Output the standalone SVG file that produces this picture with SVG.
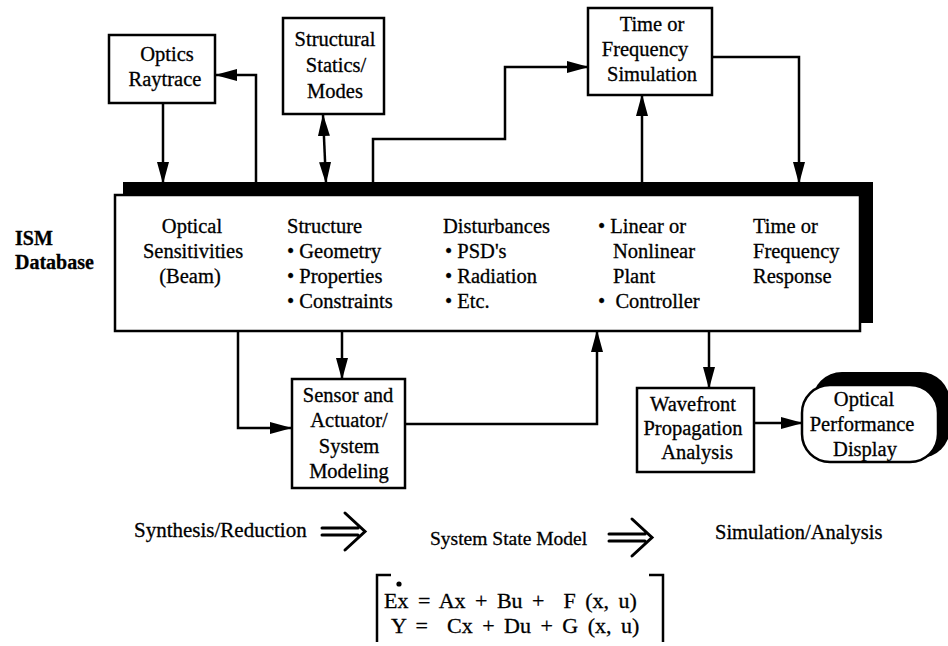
<svg xmlns="http://www.w3.org/2000/svg" width="948" height="646" viewBox="0 0 948 646">
  <style>
    text { font-family: "Liberation Serif", "DejaVu Serif", "Times New Roman", Times, serif; font-size: 20.5px; fill: #000; stroke: #000; stroke-width: 0.3; }
    .c { text-anchor: middle; }
    .b { font-weight: bold; font-size: 20px; }
    .box { fill: #fff; stroke: #000; stroke-width: 2.5; }
    .ln { fill: none; stroke: #000; stroke-width: 2.5; }
    .sym { fill: none; stroke: #000; stroke-width: 3; stroke-linecap: round; }
  </style>
  <defs>
    <marker id="ah" viewBox="0 0 22 12" refX="21" refY="6" markerWidth="22" markerHeight="12" markerUnits="userSpaceOnUse" orient="auto-start-reverse">
      <path d="M0,0 L22,6 L0,12 z" fill="#000"/>
    </marker>
  </defs>
  <rect width="948" height="646" fill="#fff"/>

  <!-- side label -->
  <g id="ism-label">
    <text class="b" x="15" y="245">ISM</text>
    <text class="b" x="15" y="269">Database</text>
  </g>

  <!-- central database with drop shadow -->
  <g id="database">
    <rect x="123" y="182" width="750" height="141" fill="#000"/>
    <rect class="box" x="115" y="195" width="745" height="136"/>
    <text class="c" x="192" y="233">Optical</text>
    <text class="c" x="193" y="258">Sensitivities</text>
    <text class="c" x="190" y="283">(Beam)</text>
    <text x="287" y="233">Structure</text>
    <text x="287" y="258">• Geometry</text>
    <text x="287" y="283">• Properties</text>
    <text x="287" y="308">• Constraints</text>
    <text x="443" y="233">Disturbances</text>
    <text x="445" y="258">• PSD's</text>
    <text x="445" y="283">• Radiation</text>
    <text x="445" y="308">• Etc.</text>
    <text x="598" y="233">• Linear or</text>
    <text x="613" y="258">Nonlinear</text>
    <text x="613" y="283">Plant</text>
    <text x="598" y="308" xml:space="preserve">•  Controller</text>
    <text x="753" y="233">Time or</text>
    <text x="753" y="258">Frequency</text>
    <text x="753" y="283">Response</text>
  </g>

  <g id="optics-raytrace">
    <rect class="box" x="109" y="35" width="106" height="68"/>
    <text class="c" x="167" y="61">Optics</text>
    <text class="c" x="165" y="86">Raytrace</text>
  </g>

  <g id="structural-statics">
    <rect class="box" x="283" y="18" width="101" height="96"/>
    <text class="c" x="335" y="46">Structural</text>
    <text class="c" x="336" y="72">Statics/</text>
    <text class="c" x="335" y="98">Modes</text>
  </g>

  <g id="time-frequency-simulation">
    <rect class="box" x="588" y="8" width="124" height="87"/>
    <text class="c" x="652" y="31">Time or</text>
    <text class="c" x="645" y="56">Frequency</text>
    <text class="c" x="652" y="81">Simulation</text>
  </g>

  <g id="sensor-actuator">
    <rect class="box" x="292" y="379" width="113" height="109"/>
    <text class="c" x="348" y="402">Sensor and</text>
    <text class="c" x="349" y="427">Actuator/</text>
    <text class="c" x="349" y="453">System</text>
    <text class="c" x="349" y="478">Modeling</text>
  </g>

  <g id="wavefront">
    <rect class="box" x="637" y="388" width="117" height="84"/>
    <text class="c" x="693" y="411">Wavefront</text>
    <text class="c" x="693" y="435">Propagation</text>
    <text class="c" x="697" y="459">Analysis</text>
  </g>

  <g id="optical-performance">
    <rect x="812" y="372" width="138" height="86" rx="30" fill="#000"/>
    <rect class="box" x="802" y="385" width="136" height="77" rx="28"/>
    <text class="c" x="864" y="406">Optical</text>
    <text class="c" x="862" y="431">Performance</text>
    <text class="c" x="865" y="456">Display</text>
  </g>

  <!-- connectors -->
  <g id="connectors" class="ln">
    <path d="M163,103 V183" marker-end="url(#ah)"/>
    <path d="M256,183 V75 H216" marker-end="url(#ah)"/>
    <path d="M323,115 L326,183" marker-start="url(#ah)" marker-end="url(#ah)"/>
    <path d="M373,183 V139 H505 V67 H588" marker-end="url(#ah)"/>
    <path d="M642,183 V95" marker-end="url(#ah)"/>
    <path d="M712,57 H799 V183" marker-end="url(#ah)"/>
    <path d="M342,331 V379" marker-end="url(#ah)"/>
    <path d="M238,331 V428 H291" marker-end="url(#ah)"/>
    <path d="M405,424 H597 V331" marker-end="url(#ah)"/>
    <path d="M709,331 V388" marker-end="url(#ah)"/>
    <path d="M754,423 H802" marker-end="url(#ah)"/>
  </g>

  <!-- process flow row -->
  <g id="flow-row">
    <text x="134" y="537" style="font-size:21px">Synthesis/Reduction</text>
    <path class="sym" d="M322,528 H358 M322,535 H358 M345,513 L365,531.5 L345,550"/>
    <text x="430" y="545" style="font-size:19.5px">System State Model</text>
    <path class="sym" d="M609,534 H645 M609,541 H645 M632,519 L652,537.5 L632,556"/>
    <text x="715" y="539" style="font-size:20.5px">Simulation/Analysis</text>
  </g>

  <!-- state equations -->
  <g id="equations">
    <path class="ln" d="M391,575 H377 V642"/>
    <path class="ln" d="M649,575 H663 V642"/>
    <circle cx="399" cy="584" r="2.6" fill="#000"/>
    <text x="384" y="608" style="font-size:22px; word-spacing:4px" xml:space="preserve">Ex = Ax + Bu +  F (x, u)</text>
    <text x="391" y="633" style="font-size:22px; word-spacing:4px" xml:space="preserve">Y =  Cx + Du + G (x, u)</text>
  </g>
</svg>
